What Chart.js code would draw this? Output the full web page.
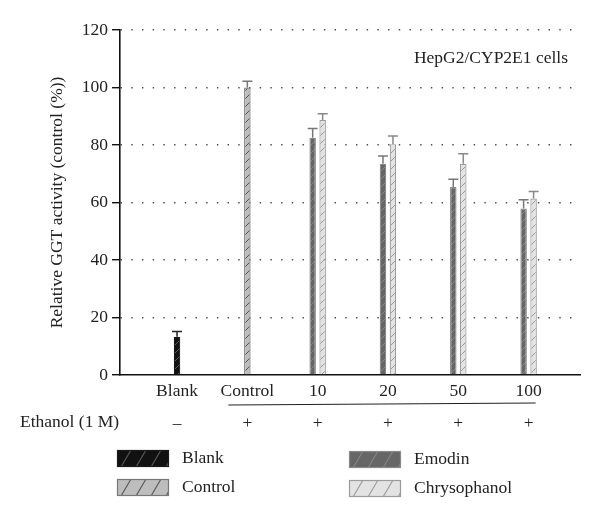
<!DOCTYPE html>
<html>
<head>
<meta charset="utf-8">
<script src="https://cdn.jsdelivr.net/npm/chart.js@4.4.1/dist/chart.umd.min.js"></script>
<style>
  html, body { margin: 0; padding: 0; background: #ffffff; }
  #wrap { width: 600px; height: 520px; }
</style>
</head>
<body>
<div id="wrap"><canvas id="c" width="600" height="520"></canvas></div>
<script>
// ---- data ----
const categories = ["Blank", "Control", "10", "20", "50", "100"];
const ethanolSigns = ["–", "+", "+", "+", "+", "+"];
const blankValues = [13.3, null, null, null, null, null];
const blankErrors = [1.8, null, null, null, null, null];
const controlValues = [null, 100, null, null, null, null];
const controlErrors = [null, 2.2, null, null, null, null];
const emodinValues = [null, null, 82.5, 73.5, 65.4, 57.9];
const emodinErrors = [null, null, 3.2, 2.7, 2.7, 3.1];
const chrysophanolValues = [null, null, 88.7, 80.3, 73.5, 61.4];
const chrysophanolErrors = [null, null, 2.2, 2.8, 3.5, 2.4];
const yTicks = [0, 20, 40, 60, 80, 100, 120];
const seriesNames = ["Blank", "Control", "Emodin", "Chrysophanol"];

// ---- styles ----
const SERIF = "'Liberation Serif', 'DejaVu Serif', serif";
const FONT_SIZE = 17.5;
const STYLES = [
  { fill: "#111111", hatch: "#5a5a5a", border: "#1a1a1a", err: "#222222" },
  { fill: "#bdbdbd", hatch: "#555555", border: "#777777", err: "#777777" },
  { fill: "#666666", hatch: "#858585", border: "#8a8a8a", err: "#777777" },
  { fill: "#e3e3e3", hatch: "#9a9a9a", border: "#9c9c9c", err: "#888888" }
];

function makePattern(bg, line) {
  const s = 8;
  const c = document.createElement("canvas");
  c.width = s; c.height = s;
  const g = c.getContext("2d");
  g.fillStyle = bg; g.fillRect(0, 0, s, s);
  g.strokeStyle = line; g.lineWidth = 1;
  g.beginPath();
  g.moveTo(0, s); g.lineTo(s, 0);
  g.moveTo(-1, 1); g.lineTo(1, -1);
  g.moveTo(s - 1, s + 1); g.lineTo(s + 1, s - 1);
  g.stroke();
  return document.getElementById("c").getContext("2d").createPattern(c, "repeat");
}

const valueSets = [blankValues, controlValues, emodinValues, chrysophanolValues];
const errorSets = [blankErrors, controlErrors, emodinErrors, chrysophanolErrors];

const datasets = seriesNames.map((name, k) => ({
  label: name,
  data: valueSets[k].map((v, i) => ({ x: i, y: v })),
  errors: errorSets[k],
  backgroundColor: makePattern(STYLES[k].fill, STYLES[k].hatch),
  borderColor: STYLES[k].border,
  borderWidth: 1.2,
  borderSkipped: "bottom",
  skipNull: true,
  categoryPercentage: 0.284,
  barPercentage: 0.9,
  maxBarThickness: 6.5
}));

const errorBarPlugin = {
  id: "errorBars",
  afterDatasetsDraw(chart) {
    const ctx = chart.ctx;
    const ys = chart.scales.y;
    chart.data.datasets.forEach((ds, k) => {
      const meta = chart.getDatasetMeta(k);
      ds.data.forEach((pt, i) => {
        if (pt.y === null || ds.errors[i] === null) return;
        const bar = meta.data[i];
        const top = ys.getPixelForValue(pt.y + ds.errors[i]);
        ctx.save();
        ctx.strokeStyle = STYLES[k].err;
        ctx.lineWidth = 1.5;
        ctx.beginPath();
        ctx.moveTo(bar.x, bar.y);
        ctx.lineTo(bar.x, top);
        ctx.moveTo(bar.x - 5, top);
        ctx.lineTo(bar.x + 5, top);
        ctx.stroke();
        ctx.restore();
      });
    });
  }
};

const decorPlugin = {
  id: "decor",
  afterDraw(chart) {
    const ctx = chart.ctx;
    const xs = chart.scales.x;
    ctx.save();
    ctx.fillStyle = "#222222";
    ctx.font = FONT_SIZE + "px " + SERIF;
    ctx.textBaseline = "middle";
    ctx.textAlign = "right";
    ctx.fillText("HepG2/CYP2E1 cells", 568, 58);
    ctx.textAlign = "left";
    ctx.fillText("Ethanol (1 M)", 20, 422);
    // bracket line under ethanol-treated groups
    ctx.strokeStyle = "#222222";
    ctx.lineWidth = 1.2;
    ctx.beginPath();
    ctx.moveTo(xs.getPixelForValue(1) - 19, 405);
    ctx.lineTo(xs.getPixelForValue(5) + 7, 403);
    ctx.stroke();

    // legend (2 x 2)
    const pos = [[117, 450], [117, 479], [349, 451], [349, 480]];
    const bw = 52, bh = 17;
    chart.data.datasets.forEach((ds, k) => {
      const [bx, by] = pos[k];
      ctx.save();
      ctx.fillStyle = STYLES[k].fill;
      ctx.fillRect(bx, by, bw, bh);
      ctx.beginPath();
      ctx.rect(bx, by, bw, bh);
      ctx.clip();
      ctx.strokeStyle = STYLES[k].hatch;
      ctx.lineWidth = 1.1;
      ctx.beginPath();
      for (let j = -1; j < 5; j++) {
        const x0 = bx + 4 + j * 15;
        ctx.moveTo(x0, by + bh);
        ctx.lineTo(x0 + 10, by);
      }
      ctx.stroke();
      ctx.restore();
      ctx.strokeStyle = STYLES[k].border;
      ctx.lineWidth = 1.2;
      ctx.strokeRect(bx + 0.5, by + 0.5, bw - 1, bh - 1);
      ctx.fillStyle = "#222222";
      ctx.textAlign = "left";
      ctx.fillText(ds.label, bx + 65, by + bh / 2);
    });
    ctx.restore();
  }
};

new Chart(document.getElementById("c"), {
  type: "bar",
  data: { datasets },
  plugins: [errorBarPlugin, decorPlugin],
  options: {
    responsive: false,
    animation: false,
    devicePixelRatio: 1,
    layout: { padding: { top: 30, right: 20, left: 0, bottom: 0 } },
    plugins: { legend: { display: false }, tooltip: { enabled: false } },
    scales: {
      x: {
        type: "linear",
        offset: false,
        min: -0.811,
        max: 5.731,
        afterFit(s) { s.height = 145; },
        afterBuildTicks(s) { s.ticks = categories.map((_, i) => ({ value: i })); },
        grid: { display: true, color: "rgba(0,0,0,0)", drawTicks: false, offset: false },
        border: { display: true, color: "#111111", width: 1.6 },
        ticks: {
          autoSkip: false,
          maxRotation: 0,
          padding: 0,
          color: "#222222",
          font: { family: SERIF, size: FONT_SIZE, lineHeight: 32 / FONT_SIZE },
          callback(v) {
            const i = Math.round(v);
            return [categories[i], ethanolSigns[i]];
          }
        }
      },
      y: {
        min: 0,
        max: 120,
        afterFit(s) { s.width = 120; },
        afterBuildTicks(s) { s.ticks = yTicks.map(v => ({ value: v })); },
        grid: {
          color: (c) => (c.tick && c.tick.value === 0) ? "rgba(0,0,0,0)" : "#4a4a4a",
          lineWidth: 1.4,
          tickLength: 8,
          tickColor: "#111111",
          tickWidth: 1.4,
          tickBorderDash: []
        },
        border: { display: true, color: "#111111", width: 1.6, dash: [1.4, 9.3] },
        ticks: {
          padding: 4,
          color: "#222222",
          font: { family: SERIF, size: FONT_SIZE }
        },
        title: {
          display: true,
          text: "Relative GGT activity (control (%))",
          color: "#222222",
          font: { family: SERIF, size: FONT_SIZE },
          padding: { top: 47, bottom: 0 }
        }
      }
    }
  }
});
</script>
</body>
</html>
